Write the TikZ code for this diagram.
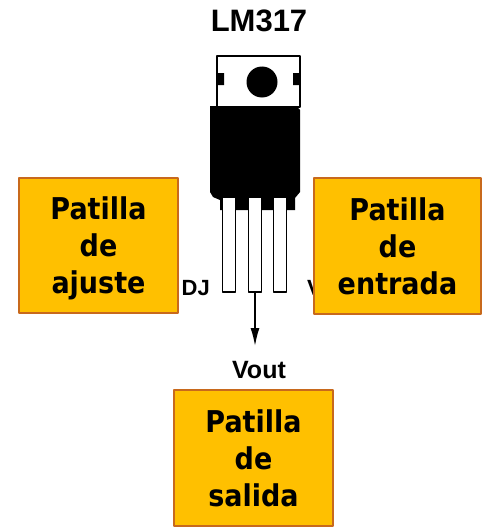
\documentclass[tikz,border=0pt]{standalone}
\usepackage{fontspec}
\usetikzlibrary{arrows.meta}
\newfontfamily\pinfont{Liberation Sans}
\newfontfamily\boxfont[FakeStretch=0.9]{DejaVu Sans}
\definecolor{caja}{HTML}{FFC000}
\definecolor{borde}{HTML}{C8691C}

\begin{document}
\begin{tikzpicture}[x=1pt, y=-1pt, line join=round, >={Latex[length=18pt,width=9pt]},
	patilla/.style={draw=borde, line width=2pt, fill=caja, align=center, inner sep=0pt,
		text depth=0pt, font=\boxfont\bfseries\fontsize{30}{37}\selectfont},
	pin/.style={font=\pinfont\bfseries\fontsize{22}{26}\selectfont, inner sep=0pt}]
	\useasboundingbox (0,0) rectangle (483,527);
	\node[pin, font=\pinfont\bfseries\fontsize{31}{36}\selectfont] (titulo) at (259,21) {LM317};
	% lengueta con el agujero
	\draw[line width=2pt] (217,56) rectangle (300,107);
	\fill (217,73) rectangle (224,85) (293,73) rectangle (300,85);
	\fill (262,82) circle (15.5);
	% cuerpo negro
	\fill (210,106) -- (296,106) -- (300,110) -- (300,192) -- (295,198) -- (295,210)
		-- (220,210) -- (220,200) -- (213,197) -- (210,192) -- cycle;
	% las tres patillas
	\foreach \x/\n in {229/adj, 255/out, 280/in} {
		\draw[fill=white, line width=1.5pt] (\x-6.5,197) rectangle (\x+6.5,292);
		\coordinate (\n) at (\x,292);
	}
	\node[pin, anchor=base east] (adjtxt) at (210,295) {A\kern3pt DJ};
	\node[pin, anchor=base west] (vintxt) at (307,295) {Vin};
	\node[pin, font=\pinfont\bfseries\fontsize{25}{30}\selectfont] (vout) at (259,370) {Vout};
	\coordinate (punta) at (255,346);
	\draw[->, line width=1.5pt] (out) -- (punta);
	% recuadros
	\node[patilla, minimum width=159pt, minimum height=135pt] (ajuste) at (98.5,245.5) {Patilla\\de\\ajuste};
	\node[patilla, minimum width=167pt, minimum height=136pt] (entrada) at (397.5,246) {Patilla\\de\\entrada};
	\node[patilla, minimum width=159pt, minimum height=136pt] (salida) at (253.5,458) {Patilla\\de\\salida};
\end{tikzpicture}
\end{document}
